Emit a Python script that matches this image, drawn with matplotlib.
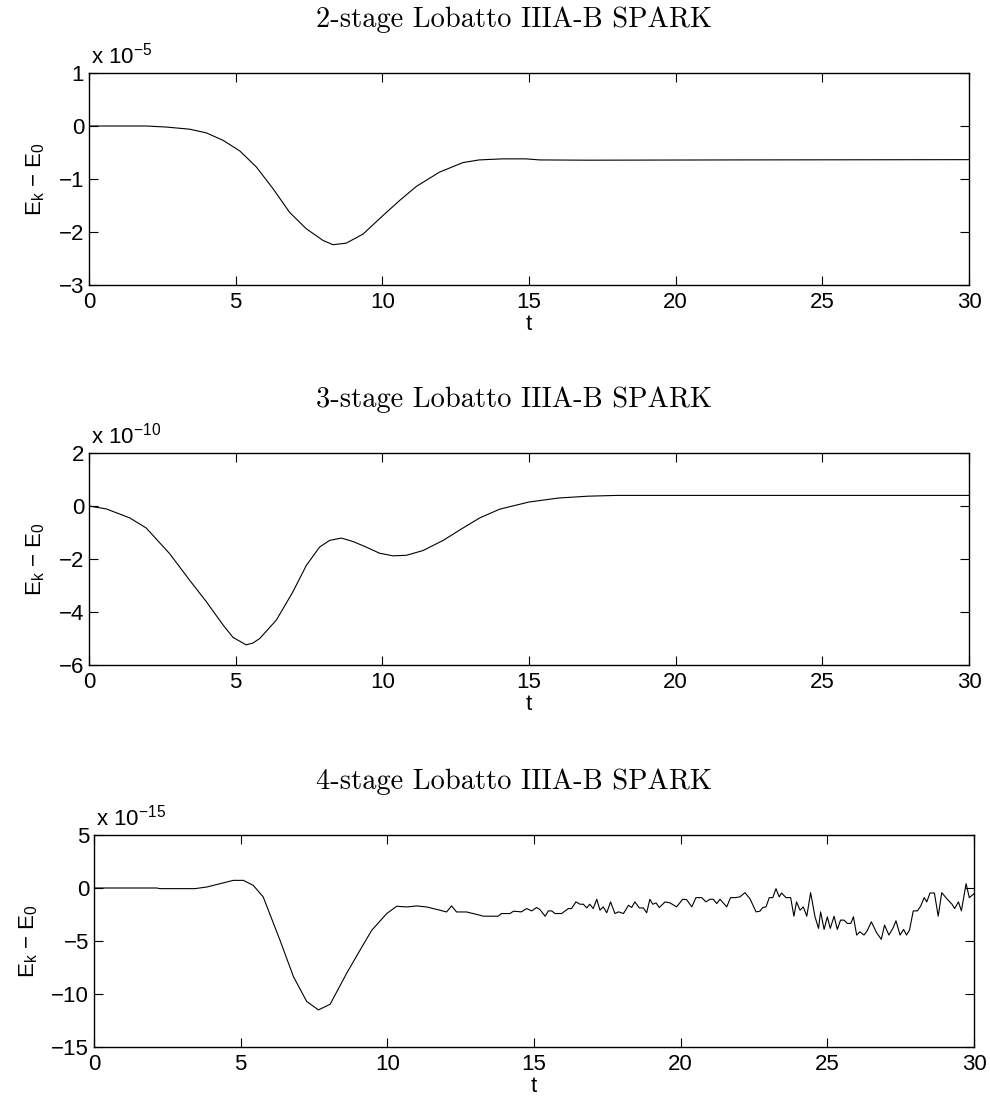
# energy error of Lobatto IIIA-B SPARK methods

import matplotlib
matplotlib.use("Agg")
import matplotlib.pyplot as plt

plt.rcParams['font.family'] = ['Liberation Sans', 'DejaVu Sans']
plt.rcParams['mathtext.default'] = 'regular'

titles = ["2-stage Lobatto IIIA-B SPARK",
          "3-stage Lobatto IIIA-B SPARK",
          "4-stage Lobatto IIIA-B SPARK"]
exponents = [-5, -10, -15]
ylims = [(-3, 1), (-6, 2), (-15, 5)]
yticks = [[-3, -2, -1, 0, 1], [-6, -4, -2, 0, 2], [-15, -10, -5, 0, 5]]
xticks = [0, 5, 10, 15, 20, 25, 30]

# 2-stage, values in 1e-5
t2 = [0, 1.95, 2.64, 3.43, 4.0, 4.57, 5.14, 5.7, 6.27, 6.84, 7.41, 7.98, 8.32,
      8.77, 9.34, 10.02, 10.6, 11.16, 11.95, 12.75, 13.3, 14.1, 14.9, 15.36,
      17.0, 22.0, 30.0]
e2 = [0, 0, -0.02, -0.06, -0.13, -0.27, -0.47, -0.77, -1.18, -1.63, -1.94,
      -2.16, -2.24, -2.21, -2.04, -1.69, -1.40, -1.14, -0.87, -0.69, -0.64,
      -0.62, -0.62, -0.64, -0.645, -0.64, -0.635]

# 3-stage, values in 1e-10
t3 = [0, 0.59, 1.39, 1.95, 2.75, 3.43, 4.0, 4.57, 4.91, 5.36, 5.59, 5.82, 6.39,
      6.95, 7.41, 7.86, 8.2, 8.6, 9.0, 9.45, 9.9, 10.36, 10.82, 11.39, 12.07,
      12.75, 13.32, 14.0, 15.0, 16.0, 17.0, 18.0, 30.0]
e3 = [0, -0.11, -0.45, -0.83, -1.8, -2.8, -3.61, -4.49, -4.96, -5.24, -5.17,
      -5.0, -4.3, -3.24, -2.24, -1.55, -1.3, -1.21, -1.34, -1.55, -1.78, -1.88,
      -1.86, -1.68, -1.3, -0.83, -0.45, -0.12, 0.15, 0.3, 0.37, 0.4, 0.4]

# 4-stage, values in 1e-15
t4 = [0, 2.14, 2.25, 3.44, 3.84, 4.3, 4.75, 5.09, 5.43, 5.77, 6.34, 6.8, 7.25,
      7.65, 8.05, 8.61, 9.07, 9.47, 9.98, 10.32, 10.66, 11.0, 11.34, 11.8,
      12.02, 12.19, 12.36, 12.7, 13.16, 13.27, 13.78, 13.89, 14.18, 14.3,
      14.57, 14.75, 14.92, 15.09, 15.2, 15.38, 15.49, 15.6, 15.72, 15.94,
      16.17, 16.28, 16.43, 16.57, 16.68, 16.8, 16.9, 17.02, 17.14, 17.25,
      17.36, 17.48, 17.61, 17.76, 17.88, 18.05, 18.22, 18.33, 18.44, 18.59,
      18.73, 18.84, 18.95, 19.05, 19.16, 19.27, 19.47, 19.64, 19.86, 20.07,
      20.2, 20.38, 20.52, 20.72, 20.86, 21.0, 21.11, 21.23, 21.34, 21.57,
      21.7, 21.85, 22.02, 22.19, 22.36, 22.57, 22.7, 22.8, 22.91, 23.02,
      23.14, 23.25, 23.36, 23.44, 23.59, 23.75, 23.86, 23.95, 24.07, 24.18,
      24.3, 24.43, 24.58, 24.7, 24.77, 24.89, 25.0, 25.1, 25.23, 25.34, 25.45,
      25.57, 25.68, 25.8, 25.89, 26.0, 26.11, 26.25, 26.36, 26.5, 26.68,
      26.84, 26.95, 27.1, 27.25, 27.34, 27.48, 27.6, 27.7, 27.8, 27.93, 28.07,
      28.18, 28.3, 28.39, 28.5, 28.65, 28.78, 28.9, 29.07, 29.25, 29.34,
      29.47, 29.57, 29.73, 29.84, 30.0]
e4 = [0, 0, -0.06, -0.06, 0.09, 0.41, 0.72, 0.72, 0.25, -0.85, -4.92, -8.37,
      -10.7, -11.5, -10.97, -8.06, -5.86, -3.98, -2.41, -1.72, -1.79, -1.69,
      -1.79, -2.1, -2.26, -1.69, -2.26, -2.26, -2.57, -2.66, -2.66, -2.41,
      -2.41, -2.19, -2.25, -1.94, -2.16, -1.84, -2.03, -2.66, -2.16, -2.16,
      -2.41, -2.41, -1.94, -1.94, -1.31, -1.53, -1.53, -1.88, -1.53, -1.94,
      -1.06, -2.09, -1.78, -2.34, -1.31, -2.41, -2.25, -2.41, -1.63, -1.84,
      -1.31, -1.88, -1.88, -2.34, -1.06, -1.53, -1.41, -1.84, -1.31, -1.41,
      -1.78, -1.06, -1.09, -1.78, -0.91, -0.91, -1.31, -1.06, -1.06, -1.47,
      -1.06, -1.78, -0.91, -0.91, -0.84, -0.44, -1.0, -2.25, -2.19, -1.84,
      -1.78, -0.91, -0.91, -0.06, -0.84, -0.47, -0.91, -0.91, -2.66, -1.31,
      -2.09, -1.78, -2.66, -0.44, -2.72, -3.81, -2.25, -3.91, -2.72, -3.81,
      -2.66, -3.91, -3.03, -3.03, -3.34, -3.34, -2.72, -4.44, -4.13, -4.44,
      -4.03, -3.19, -4.22, -4.84, -3.5, -4.44, -3.72, -3.09, -4.44, -3.91,
      -4.44, -3.97, -2.16, -2.16, -1.72, -0.91, -1.31, -0.47, -0.47, -2.66,
      -0.44, -1.0, -1.53, -1.94, -1.31, -2.16, 0.41, -0.91, -0.53]

times = [t2, t3, t4]
errors = [e2, e3, e4]

# axes boxes in pixels: left, top, ylabel anchor x (figure is 990 x 1106)
boxes = [(89, 73, 47), (89, 453, 47), (94, 835, 40)]
W, H = 990.0, 1106.0

fig = plt.figure(figsize=(9.9, 11.06), dpi=100)

for k in range(3):
    left, top, lab_x = boxes[k]
    ax = fig.add_axes([left / W, 1 - (top + 212) / H, 880 / W, 212 / H])
    ax.plot(times[k], errors[k], color='black', lw=0.8)
    ax.set_xlim(0, 30)
    ax.set_ylim(*ylims[k])
    ax.set_xticks(xticks)
    ax.set_yticks(yticks[k])
    ax.tick_params(direction='in', length=6.5, width=0.8, labelsize=16,
                   top=True, right=True)
    ax.tick_params(axis='x', pad=5)
    ax.tick_params(axis='y', pad=3.5)
    for s in ax.spines.values():
        s.set_linewidth(1.0)
    # title sits slightly left of the axes centre in the original
    ax.set_title(titles[k], family='cmr10', fontsize=20.5, pad=33,
                 x=(513.5 - left) / 880.0)
    ax.set_xlabel("t", fontsize=16, labelpad=1)
    ax.set_ylabel(r"$E_k$ $-$ $E_0$", fontsize=16)
    ax.yaxis.set_label_coords(-(left - lab_x) / 880.0, 0.5)
    ax.text(0.002, 1.02, r"x 10$^{%d}$" % exponents[k], transform=ax.transAxes,
            fontsize=16, ha='left', va='bottom')

fig.savefig("out.png", dpi=100)
